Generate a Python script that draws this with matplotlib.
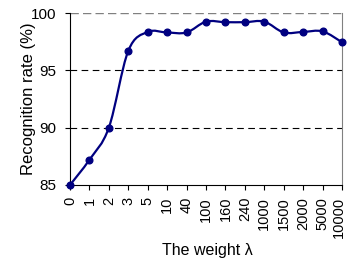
import matplotlib
matplotlib.use("Agg")
import matplotlib.pyplot as plt
from matplotlib.path import Path
from matplotlib.patches import PathPatch
from matplotlib.transforms import ScaledTranslation
import numpy as np

plt.rcParams['font.family'] = ['Liberation Sans', 'DejaVu Sans']

categories = ["0", "1", "2", "3", "5", "10", "40", "100", "160", "240",
              "1000", "1500", "2000", "5000", "10000"]
rates = [85.0, 87.2, 90.0, 96.7, 98.35, 98.3, 98.3, 99.25, 99.2, 99.2,
         99.25, 98.3, 98.35, 98.4, 97.45]
yticks = [85, 90, 95, 100]

fig = plt.figure(figsize=(3.47, 2.58), dpi=100)
ax = fig.add_axes([0.2017, 0.283, 0.7839, 0.6666])

x = np.arange(len(categories), dtype=float)
y = np.array(rates)

# smoothed line (Catmull-Rom as Bezier, like a spreadsheet "smoothed line")
verts = [(x[0], y[0])]
codes = [Path.MOVETO]
n = len(x)
for i in range(n - 1):
    p0 = np.array([x[max(i - 1, 0)], y[max(i - 1, 0)]])
    p1 = np.array([x[i], y[i]])
    p2 = np.array([x[i + 1], y[i + 1]])
    p3 = np.array([x[min(i + 2, n - 1)], y[min(i + 2, n - 1)]])
    c1 = p1 + (p2 - p0) / 6.0
    c2 = p2 - (p3 - p1) / 6.0
    verts += [tuple(c1), tuple(c2), tuple(p2)]
    codes += [Path.CURVE4, Path.CURVE4, Path.CURVE4]
ax.add_patch(PathPatch(Path(verts, codes), facecolor='none', edgecolor='#000080',
                       lw=1.6, zorder=3, clip_on=False))
ax.plot(x, y, linestyle='none', marker='o', markersize=4.8, color='#000080',
        zorder=4, clip_on=False)

ax.set_xlim(0, n - 1)
ax.set_ylim(85, 100)
ax.set_yticks(yticks)
ax.set_xticks(x)
ax.set_xticklabels(categories, rotation=90, fontsize=10.5)
ax.tick_params(axis='y', labelsize=11, length=3.6, width=0.8, direction='out', pad=6)
ax.tick_params(axis='x', length=3.6, width=0.8, direction='out', pad=5)

# nudge the last tick label slightly left so it stays inside the figure
last = ax.get_xticklabels()[-1]
last.set_transform(last.get_transform() + ScaledTranslation(-3 / 100, 0, fig.dpi_scale_trans))

for v in [90, 95]:
    ax.axhline(v, color='black', lw=0.8, dashes=(6, 4), zorder=1)
ax.axhline(100, color='#808080', lw=1.0, dashes=(6, 3), zorder=1)

ax.spines['top'].set_visible(False)
ax.spines['right'].set_color('#808080')
ax.spines['left'].set_linewidth(0.8)
ax.spines['bottom'].set_linewidth(0.8)

ax.set_ylabel("Recognition rate (%)", fontsize=12)
ax.yaxis.set_label_coords(-0.125, 0.5)
ax.set_xlabel("The weight λ", fontsize=11.5)
ax.xaxis.set_label_coords(0.504, -0.335)

fig.savefig("out.png", dpi=100)
